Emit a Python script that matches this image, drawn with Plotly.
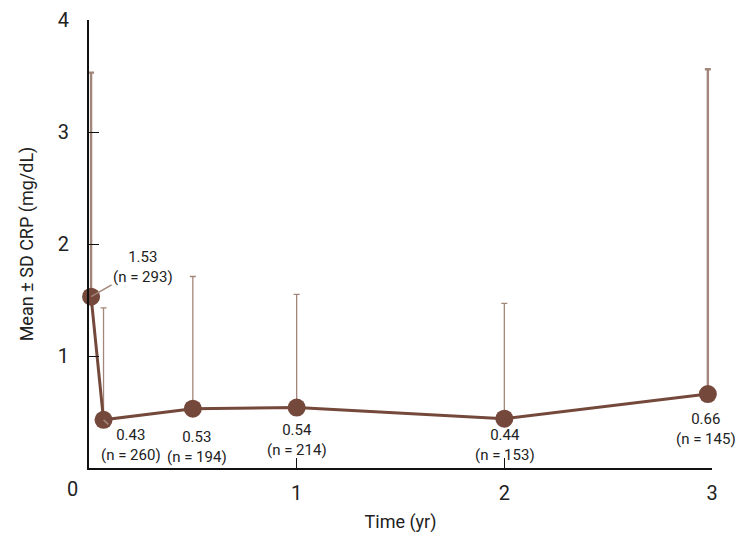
import plotly.graph_objects as go

# Data
time_yr = [0.01, 0.07, 0.5, 1.0, 2.0, 2.98]
crp_mean = [1.53, 0.43, 0.53, 0.54, 0.44, 0.66]
crp_sd = [2.0, 1.0, 1.18, 1.01, 1.03, 2.9]
n_patients = [293, 260, 194, 214, 153, 145]

BROWN = "#74483a"
LIGHT = "#a3867a"
FONT = "Roboto, Arial, sans-serif"

fig = go.Figure()

# error bars: outer two drawn thicker than the middle ones
for idx, thick in [([0, 5], 2.4), ([1, 2, 3, 4], 1.3)]:
    fig.add_trace(go.Scatter(
        x=[time_yr[i] for i in idx], y=[crp_mean[i] for i in idx],
        mode="markers", marker=dict(size=1, color="rgba(0,0,0,0)"),
        error_y=dict(type="data", array=[crp_sd[i] for i in idx],
                     arrayminus=[0] * len(idx), color=LIGHT, thickness=thick, width=3),
        showlegend=False, hoverinfo="skip", cliponaxis=False,
    ))

fig.add_trace(go.Scatter(
    x=time_yr, y=crp_mean,
    mode="lines+markers",
    line=dict(color=BROWN, width=3),
    marker=dict(color=BROWN, size=18),
    showlegend=False,
    cliponaxis=False,
))

# label placement (pixels) for each point
offsets = [(52, -30, True), (27, 25, True), (4, 17, False),
           (0, 11, False), (1, 5, False), (-2, 14, False)]
for x, y, n, (dx, dy, arrow) in zip(time_yr, crp_mean, n_patients, offsets):
    txt = f"{y:.2f}<br>(n = {n})"
    if arrow:
        fig.add_annotation(x=x, y=y, text=txt, showarrow=True, ax=dx, ay=dy,
                           arrowhead=0, arrowwidth=1.5, arrowcolor=LIGHT,
                           standoff=0, font=dict(size=15, color="#222", family=FONT))
    else:
        fig.add_annotation(x=x, y=y, text=txt, showarrow=False,
                           xshift=dx, yshift=-dy, yanchor="top",
                           font=dict(size=15, color="#222", family=FONT))

# shared origin label
fig.add_annotation(x=0, y=0, text="0", showarrow=False, xanchor="right", yanchor="top",
                   xshift=-9, yshift=-7, font=dict(size=20, color="#222", family=FONT))

# page body adds an 8px offset, margins compensate for it
fig.update_layout(
    width=749, height=554,
    margin=dict(l=81, r=45, t=12, b=94),
    paper_bgcolor="white", plot_bgcolor="white",
    font=dict(family=FONT, color="#222"),
)
fig.update_xaxes(
    range=[0, 3], tickvals=[1, 2, 3], ticks="inside", ticklen=10, tickcolor="#111",
    showline=True, linecolor="#111", linewidth=2, showgrid=False, zeroline=False,
    tickfont=dict(size=20), ticklabelstandoff=6, automargin=False,
    title=dict(text="Time (yr)", font=dict(size=18), standoff=11),
)
fig.update_yaxes(
    range=[0, 4], tickvals=[1, 2, 3, 4], ticks="inside", ticklen=10, tickcolor="#111",
    showline=True, linecolor="#111", linewidth=2, showgrid=False, zeroline=False,
    tickfont=dict(size=20), ticklabelstandoff=14, automargin=False,
    title=dict(text="Mean ± SD CRP (mg/dL)", font=dict(size=18), standoff=19),
)

fig.write_html("out.html")
